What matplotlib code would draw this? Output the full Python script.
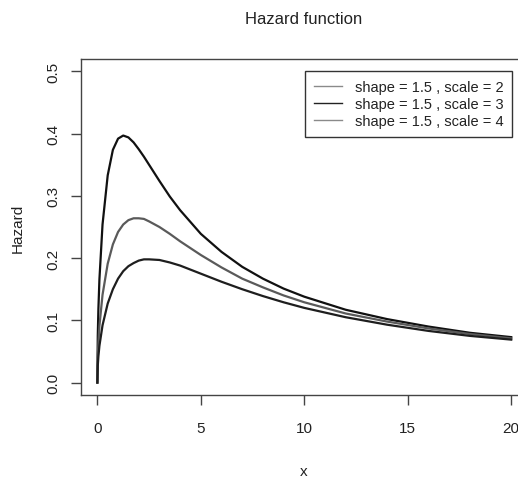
import matplotlib
matplotlib.use("Agg")
import matplotlib.pyplot as plt
from matplotlib.lines import Line2D

# values
x = [0, 0.02, 0.05, 0.1, 0.25, 0.5, 0.75, 1, 1.25, 1.5, 1.75, 2, 2.25, 2.5,
     3, 3.5, 4, 5, 6, 7, 8, 9, 10, 12, 14, 16, 18, 20]
hazard_scale2 = [0, 0.075, 0.118, 0.166, 0.254, 0.333, 0.374, 0.392, 0.397,
                 0.394, 0.386, 0.375, 0.363, 0.350, 0.324, 0.299, 0.277,
                 0.239, 0.210, 0.186, 0.167, 0.151, 0.138, 0.117, 0.102,
                 0.090, 0.080, 0.073]
hazard_scale3 = [0, 0.041, 0.064, 0.091, 0.141, 0.191, 0.222, 0.242, 0.254,
                 0.261, 0.264, 0.264, 0.263, 0.259, 0.250, 0.239, 0.227,
                 0.205, 0.185, 0.167, 0.153, 0.140, 0.129, 0.111, 0.098,
                 0.087, 0.078, 0.071]
hazard_scale4 = [0, 0.027, 0.042, 0.059, 0.092, 0.127, 0.150, 0.167, 0.179,
                 0.187, 0.192, 0.196, 0.198, 0.198, 0.197, 0.193, 0.188,
                 0.175, 0.162, 0.150, 0.139, 0.129, 0.120, 0.105, 0.093,
                 0.083, 0.075, 0.069]

labels = ["shape = 1.5 , scale = 2", "shape = 1.5 , scale = 3",
          "shape = 1.5 , scale = 4"]
xticks = [0, 5, 10, 15, 20]
yticks = [0.0, 0.1, 0.2, 0.3, 0.4, 0.5]

plt.rcParams["font.family"] = ["Liberation Sans", "DejaVu Sans"]

W, H = 518, 481
fig = plt.figure(figsize=(W / 100, H / 100), dpi=100)
# axes box runs a little past the right edge, as in the reference
left, right, top, bottom = 80.8, 527.8, 60, 396
ax = fig.add_axes([left / W, 1 - bottom / H, (right - left) / W, (bottom - top) / H])

ax.plot(x, hazard_scale2, color="#111111", lw=1.6)
ax.plot(x, hazard_scale3, color="#5a5a5a", lw=1.6)
ax.plot(x, hazard_scale4, color="#1e1e1e", lw=1.6)

ax.set_xlim(-0.8, 20.8)
ax.set_ylim(-0.02, 0.52)
ax.set_xticks(xticks)
ax.set_xticklabels([str(t) for t in xticks])
ax.set_yticks(yticks)
ax.set_yticklabels(["%.1f" % t for t in yticks], rotation=90, va="center")

for s in ax.spines.values():
    s.set_color("#444444")
    s.set_linewidth(1.0)
ax.tick_params(axis="both", direction="out", length=7, width=1.0,
               color="#444444", labelsize=11, labelcolor="#222222")
ax.tick_params(axis="x", pad=12)
ax.tick_params(axis="y", pad=8)

handles = [Line2D([], [], color="#8a8a8a", lw=1.0),
           Line2D([], [], color="#222222", lw=1.0),
           Line2D([], [], color="#8a8a8a", lw=1.0)]
leg = ax.legend(handles, labels, loc="upper right",
                bbox_to_anchor=(20.05, 0.5), bbox_transform=ax.transData,
                fontsize=10.5, frameon=True, fancybox=False, framealpha=1,
                edgecolor="#333333", borderpad=0.6, labelspacing=0.2,
                handlelength=1.9, handletextpad=0.9, borderaxespad=0)
leg.get_frame().set_linewidth(1.0)
for t in leg.get_texts():
    t.set_color("#222222")

fig.text(304 / W, 1 - 20 / H, "Hazard function", ha="center", va="center",
         fontsize=12, color="#222222")
fig.text(304 / W, 1 - 472 / H, "x", ha="center", va="center",
         fontsize=11, color="#222222")
fig.text(18 / W, 1 - 228 / H, "Hazard", ha="center", va="center",
         rotation=90, fontsize=11, color="#222222")

fig.savefig("out.png", dpi=100)
